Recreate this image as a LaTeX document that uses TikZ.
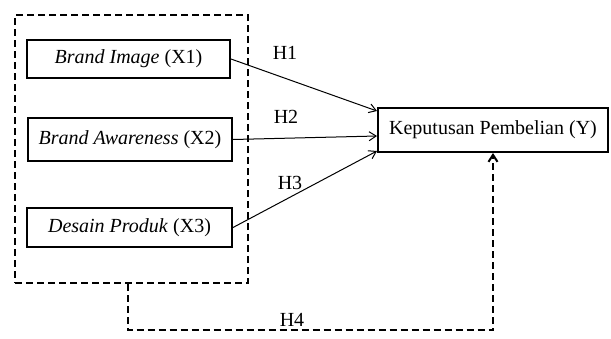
\documentclass[tikz,border=0pt]{standalone}
\usepackage{fontspec}
\setmainfont{Liberation Serif}
\usetikzlibrary{arrows.meta,calc}
\begin{document}
\begin{tikzpicture}[x=1pt,y=-1pt,
  font=\fontsize{20}{23}\selectfont,
  varbox/.style={draw,line width=2pt,rectangle,inner sep=0pt,anchor=center},
  grpbox/.style={draw,line width=2pt,dash pattern=on 7pt off 4pt,rectangle,inner sep=0pt},
  link/.style={line width=1pt,-{Straight Barb[length=7pt,width=9pt]}},
  dlink/.style={line width=2pt,dash pattern=on 7pt off 4pt,-{Straight Barb[length=7pt,width=9pt]}},
  hlabel/.style={inner sep=0pt}]
\useasboundingbox (0,0) rectangle (611,338);
\node[grpbox,minimum width=233pt,minimum height=268pt] (grp) at (131.5,149) {};
\node[varbox,minimum width=203pt,minimum height=38pt] (x1) at (128.5,59) {\textit{Brand Image} (X1)};
\node[varbox,minimum width=204pt,minimum height=43pt] (x2) at (130,139.5) {\textit{Brand Awareness} (X2)};
\node[varbox,minimum width=205pt,minimum height=39pt] (x3) at (129.5,227.5) {\textit{Desain Produk} (X3)};
\node[varbox,minimum width=230pt,minimum height=44pt] (y) at (493,130) {Keputusan Pembelian (Y)};
\draw[link] (x1.east) -- ($(y.north west)+(0,4)$);
\draw[link] (x2.east) -- ($(y.west)+(0,6)$);
\draw[link] (x3.east) -- ($(y.south west)+(0,-2)$);
\coordinate (h4y) at (0,330);
\draw[dlink] ($(grp.south)+(-4,0)$) |- (h4y -| y.south) -- (y.south);
\node[hlabel] (h1) at (285,53) {H1};
\node[hlabel] (h2) at (286,117) {H2};
\node[hlabel] (h3) at (290,183) {H3};
\node[hlabel] (h4) at (292,320) {H4};
\end{tikzpicture}
\end{document}
